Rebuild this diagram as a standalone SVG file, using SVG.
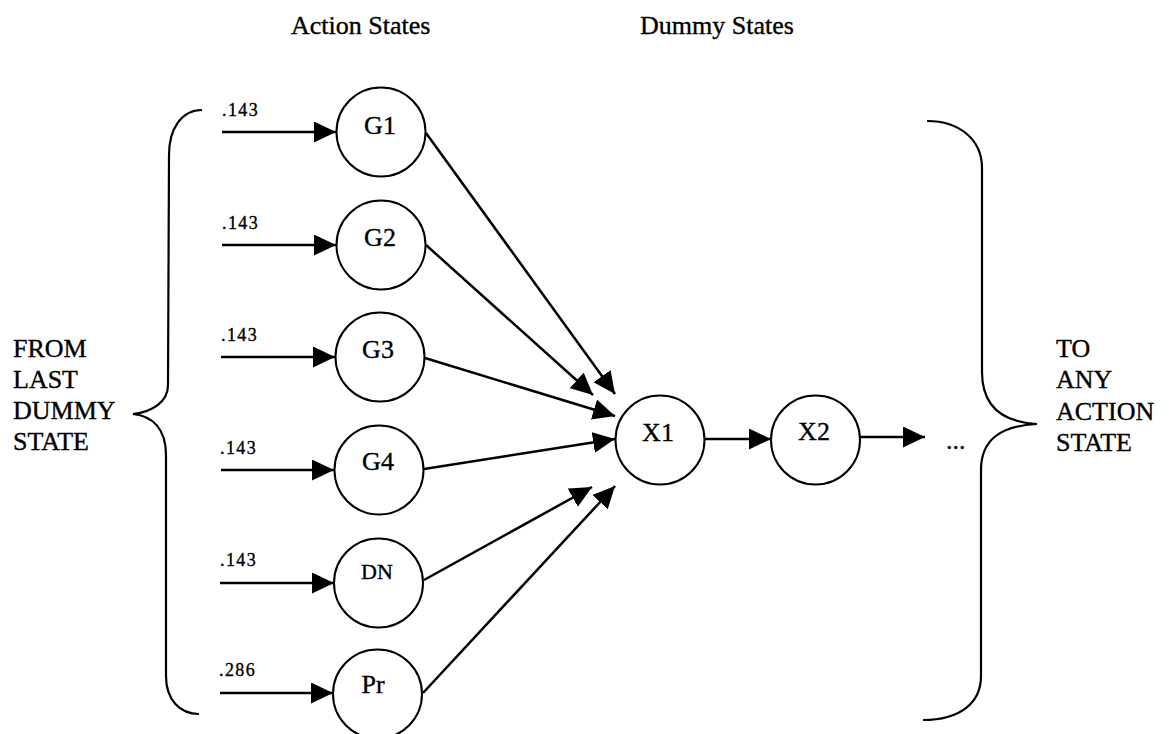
<svg xmlns="http://www.w3.org/2000/svg" width="1169" height="734" viewBox="0 0 1169 734">
  <style>
    text { font-family: "Liberation Serif", "Times New Roman", serif; fill: #000; stroke: #000; stroke-width: 0.35; }
    .head { font-size: 26px; }
    .side { font-size: 26px; }
    .prob { font-size: 18px; letter-spacing: 1.4px; }
    .lbl { font-size: 26px; text-anchor: middle; }
    .lbl-sm { font-size: 22px; text-anchor: middle; }
    .state { fill: #fff; stroke: #000; stroke-width: 2; }
    .edge { fill: none; stroke: #000; stroke-width: 2.5; marker-end: url(#head); }
    .brace { fill: none; stroke: #000; stroke-width: 2.2; }
  </style>
  <defs>
    <marker id="head" markerUnits="userSpaceOnUse" markerWidth="23" markerHeight="21" refX="22" refY="10.5" orient="auto">
      <path d="M0,0 L22,10.5 L0,21 Z" fill="#000"/>
    </marker>
  </defs>
  <rect width="1169" height="734" fill="#fff"/>

  <!-- column headings -->
  <text class="head" x="291" y="34">Action States</text>
  <text class="head" x="640" y="34">Dummy States</text>

  <!-- left brace and its label -->
  <g id="from-last-dummy">
    <path class="brace" d="M202,110 C182,110 169,128 169,155 L168,385 C168,402 152,412 133,414 C152,416 166,428 166,455 L166,676 C166,700 180,714 199,714"/>
    <text class="side" x="13" y="357">FROM</text>
    <text class="side" x="13" y="388">LAST</text>
    <text class="side" x="13" y="419">DUMMY</text>
    <text class="side" x="13" y="450">STATE</text>
  </g>

  <!-- right brace and its label -->
  <g id="to-any-action">
    <path class="brace" d="M927,121 C960,121 982,140 982,168 L982,372 C982,405 1000,422 1037,424 C1000,426 981,440 981,470 L981,676 C981,703 960,720 923,720"/>
    <text class="side" x="1056" y="357">TO</text>
    <text class="side" x="1056" y="388">ANY</text>
    <text class="side" x="1056" y="420">ACTION</text>
    <text class="side" x="1056" y="451">STATE</text>
  </g>

  <!-- connectors -->
  <g id="connectors">
    <line class="edge" x1="222" y1="132" x2="336" y2="132"/>
    <line class="edge" x1="222" y1="245" x2="336" y2="245"/>
    <line class="edge" x1="221" y1="357" x2="335" y2="357"/>
    <line class="edge" x1="221" y1="470" x2="334" y2="470"/>
    <line class="edge" x1="220" y1="583" x2="334" y2="583"/>
    <line class="edge" x1="220" y1="693" x2="333" y2="693"/>

    <line class="edge" x1="426" y1="133" x2="615" y2="394"/>
    <line class="edge" x1="426" y1="245" x2="593" y2="395"/>
    <line class="edge" x1="425" y1="358" x2="615" y2="416"/>
    <line class="edge" x1="424" y1="469" x2="615" y2="439"/>
    <line class="edge" x1="424" y1="580" x2="592" y2="487"/>
    <line class="edge" x1="423" y1="693" x2="615" y2="486"/>

    <line class="edge" x1="705" y1="439" x2="771" y2="439"/>
    <line class="edge" x1="860" y1="437" x2="925" y2="437"/>
  </g>

  <!-- entry probabilities -->
  <g id="probabilities">
    <text class="prob" x="222" y="116">.143</text>
    <text class="prob" x="222" y="229">.143</text>
    <text class="prob" x="221" y="341">.143</text>
    <text class="prob" x="220" y="454">.143</text>
    <text class="prob" x="220" y="566">.143</text>
    <text class="prob" x="219" y="676">.286</text>
  </g>

  <!-- action states -->
  <g id="G1"><circle class="state" cx="381" cy="132" r="44.5"/><text class="lbl" x="380" y="134">G1</text></g>
  <g id="G2"><circle class="state" cx="381" cy="245" r="44.5"/><text class="lbl" x="380" y="246">G2</text></g>
  <g id="G3"><circle class="state" cx="380" cy="357" r="44.5"/><text class="lbl" x="378" y="358">G3</text></g>
  <g id="G4"><circle class="state" cx="379" cy="470" r="44.5"/><text class="lbl" x="378" y="470">G4</text></g>
  <g id="DN"><circle class="state" cx="378.5" cy="583" r="44.5"/><text class="lbl-sm" x="377" y="579">DN</text></g>
  <g id="Pr"><circle class="state" cx="377.5" cy="694" r="44.5"/><text class="lbl" x="373" y="693">Pr</text></g>

  <!-- dummy states -->
  <g id="X1"><circle class="state" cx="660" cy="440" r="44.5"/><text class="lbl" x="658" y="441">X1</text></g>
  <g id="X2"><circle class="state" cx="815.5" cy="440" r="44.5"/><text class="lbl" x="814" y="440">X2</text></g>

  <text class="side" x="946" y="449">...</text>
</svg>
